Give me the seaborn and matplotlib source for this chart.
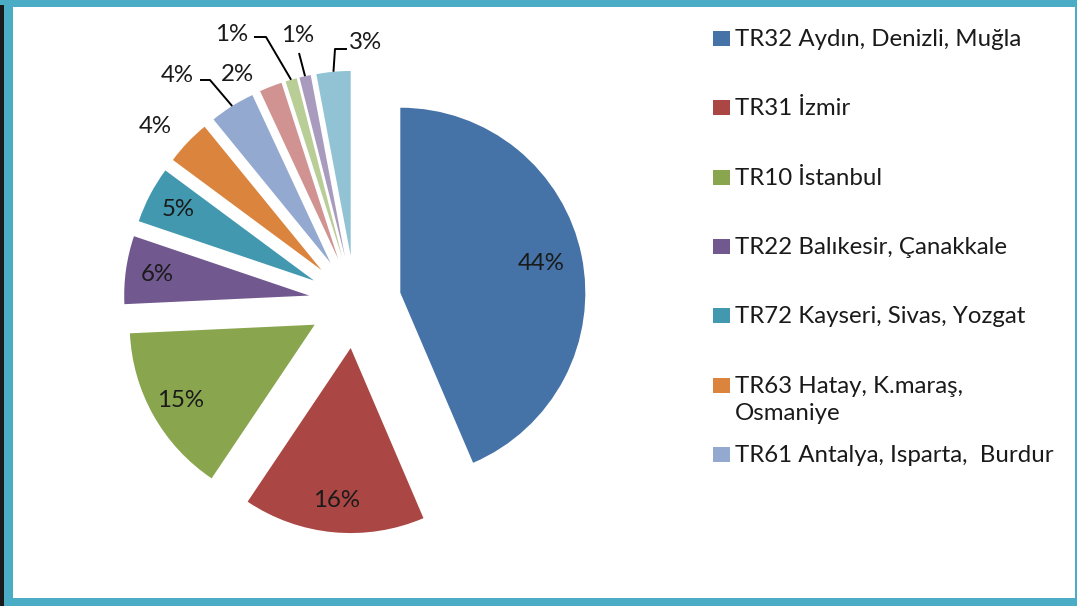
import numpy as np
import matplotlib
matplotlib.use("Agg")
import matplotlib.pyplot as plt
from matplotlib.patches import Rectangle
import seaborn as sns

# regional shares (%) - only the first 7 regions appear in the legend
shares = [44, 16, 15, 6, 5, 4, 4, 2, 1, 1, 3]
legend_labels = [
    "TR32 Aydın, Denizli, Muğla",
    "TR31 İzmir",
    "TR10 İstanbul",
    "TR22 Balıkesir, Çanakkale",
    "TR72 Kayseri, Sivas, Yozgat",
    "TR63 Hatay, K.maraş,\nOsmaniye",
    "TR61 Antalya, Isparta,  Burdur",
]
colors = ["#4572A7", "#AA4643", "#89A54E", "#71588F", "#4198AF", "#DB843D",
          "#93A9CF", "#D19392", "#B9CD96", "#A99BBD", "#92C3D4"]

sns.set_theme(style="white")
plt.rcParams["font.family"] = ["Lato", "DejaVu Sans"]

W, H = 1077, 606
fig = plt.figure(figsize=(W / 100, H / 100), dpi=100)
fig.patch.set_facecolor("#4BACC6")

# white panel inside the teal frame
fig.patches.append(Rectangle((13 / W, 8 / H), (1075 - 13) / W, (598 - 7) / H,
                             transform=fig.transFigure, facecolor="white",
                             edgecolor="none", zorder=-10))
fig.patches.append(Rectangle((0, 0), 4 / W, (606 - 5) / H,
                             transform=fig.transFigure, facecolor="#1a1a1a",
                             edgecolor="none", zorder=-10))

# pie axes: centre at pixel (355, 302), radius 185 px
CX, CY, R = 355, 302, 185
xr, yr = 1.85, 1.6
ax = fig.add_axes([(CX - xr * R) / W, 1 - (CY + yr * R) / H,
                   2 * xr * R / W, 2 * yr * R / H])
ax.patch.set_alpha(0)


def px(x, y):
    return (x - CX) / R, (CY - y) / R


wedges, _ = ax.pie(shares, colors=colors, startangle=90, counterclock=False,
                   explode=[0.25] * len(shares), radius=1,
                   wedgeprops=dict(linewidth=0))
ax.set_xlim(-xr, xr)
ax.set_ylim(-yr, yr)
ax.set_aspect("equal")
ax.axis("off")

fs = 17.3
# labels inside the large slices
for w, v in zip(wedges[:5], shares[:5]):
    mid = np.deg2rad((w.theta1 + w.theta2) / 2)
    cx, cy = w.center
    d = 0.78 if v > 40 else 0.83
    ax.text(cx + d * np.cos(mid), cy + d * np.sin(mid), f"{v}%",
            ha="center", va="center", fontsize=fs, color="#1a1a1a")

# labels outside the small slices, with leader lines
outside = {
    5: ((155, 127), None),
    6: ((177, 76), [(200, 80), (210, 80)]),
    7: ((237, 75), None),
    8: ((232, 35), [(254, 37), (266, 37)]),
    9: ((298, 36), [(299, 53)]),
    10: ((365, 43), [(347, 49), (335, 49)]),
}
for i, (tpos, line) in outside.items():
    w = wedges[i]
    ax.text(*px(*tpos), f"{shares[i]}%", ha="center", va="center",
            fontsize=fs, color="#1a1a1a")
    if line:
        mid = np.deg2rad((w.theta1 + w.theta2) / 2)
        cx, cy = w.center
        end = (cx + np.cos(mid), cy + np.sin(mid))
        pts = [px(*p) for p in line] + [end]
        ax.plot([p[0] for p in pts], [p[1] for p in pts], color="black",
                lw=1.4, solid_capstyle="butt")

# legend drawn as in the original: square + label, first lines evenly spaced
for k, lab in enumerate(legend_labels):
    yc = 39 + 69.33 * k
    fig.patches.append(Rectangle((713 / W, 1 - (yc + 7) / H), 17 / W, 15 / H,
                                 transform=fig.transFigure,
                                 facecolor=colors[k], edgecolor="none"))
    fig.text(735 / W, 1 - (yc - 10) / H, lab, ha="left", va="top",
             fontsize=fs, color="#1a1a1a", linespacing=1.35)

fig.savefig("out.png", dpi=100)
